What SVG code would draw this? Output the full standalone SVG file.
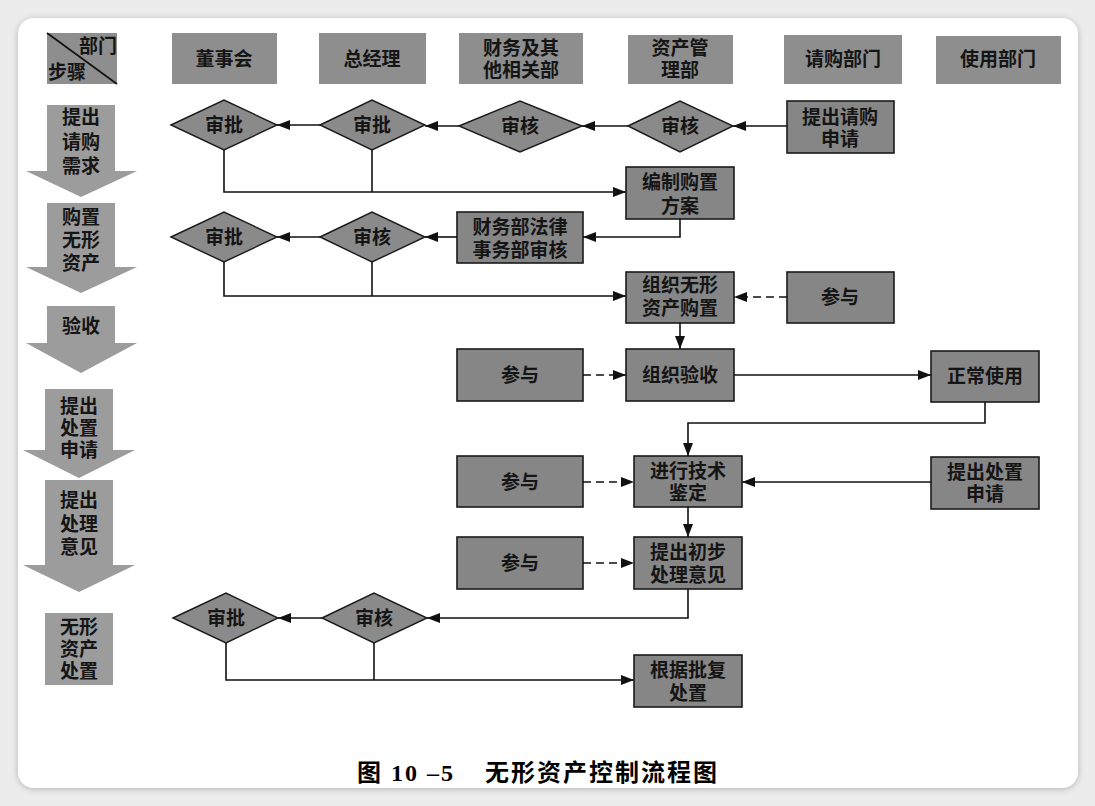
<svg xmlns="http://www.w3.org/2000/svg" width="1095" height="806" viewBox="0 0 1095 806">
<defs>
<style>
text{font-family:"Liberation Sans","Noto Sans CJK SC","Noto Sans CJK JP",sans-serif;font-size:19px;font-weight:bold;fill:#151515;text-anchor:middle;}
.hdr{fill:#8e8e8e;}
.box{fill:#868686;stroke:#1a1a1a;stroke-width:1.6;}
.dia{fill:#8a8a8a;stroke:#1a1a1a;stroke-width:1.4;}
.step{fill:#9c9c9c;}
.ln{fill:none;stroke:#111;stroke-width:1.6;}
.arr{marker-end:url(#ah);}
.dash{stroke-dasharray:8,5;}
.cap{font-family:"Liberation Serif","Noto Sans CJK SC",serif;font-weight:bold;font-size:24px;fill:#000;text-anchor:start;}
</style>
<marker id="ah" markerUnits="userSpaceOnUse" markerWidth="14" markerHeight="10" refX="13" refY="5" orient="auto">
<path d="M0,0 L13,5 L0,10 z" fill="#111"/>
</marker>
<filter id="sh" x="-5%" y="-5%" width="110%" height="110%">
<feDropShadow dx="0" dy="1" stdDeviation="3" flood-color="#000" flood-opacity="0.25"/>
</filter>
</defs>
<rect x="0" y="0" width="1095" height="806" fill="#ececec"/>
<rect x="18" y="18" width="1060" height="770" rx="16" fill="#fff" filter="url(#sh)"/>

<g id="header">
<g id="corner"><rect class="hdr" x="47" y="33" width="70" height="51"/><line x1="47" y1="33" x2="117" y2="84" stroke="#111" stroke-width="1.6"/><text x="98" y="53">部门</text><text x="67" y="79">步骤</text></g>
<g id="h-board"><rect class="hdr" x="172" y="33" width="105" height="51"/><text x="224" y="66">董事会</text></g>
<g id="h-gm"><rect class="hdr" x="319" y="33" width="107" height="51"/><text x="372" y="66">总经理</text></g>
<g id="h-fin"><rect class="hdr" x="459" y="33" width="124" height="51"/><text x="521" y="55">财务及其<tspan x="521" dy="22">他相关部</tspan></text></g>
<g id="h-asset"><rect class="hdr" x="628" y="35" width="105" height="49"/><text x="680" y="55">资产管<tspan x="680" dy="22">理部</tspan></text></g>
<g id="h-req"><rect class="hdr" x="784" y="35" width="118" height="49"/><text x="843" y="66">请购部门</text></g>
<g id="h-use"><rect class="hdr" x="936" y="36" width="125" height="48"/><text x="998" y="66">使用部门</text></g>
</g>

<g id="steps">
<g id="s1"><polygon class="step" points="47,105 115,105 115,171 137,171 81,197 26,171 47,171"/><text x="81" y="124">提出<tspan x="81" dy="25">请购</tspan><tspan x="81" dy="24">需求</tspan></text></g>
<g id="s2"><polygon class="step" points="47,203 115,203 115,267 137,267 81,293 26,267 47,267"/><text x="81" y="224">购置<tspan x="81" dy="23">无形</tspan><tspan x="81" dy="23">资产</tspan></text></g>
<g id="s3"><polygon class="step" points="47,306 115,306 115,343 137,343 81,373 26,343 47,343"/><text x="81" y="333">验收</text></g>
<g id="s4"><polygon class="step" points="45,389 113,389 113,450 135,450 79,478 23,450 45,450"/><text x="79" y="413">提出<tspan x="79" dy="22">处置</tspan><tspan x="79" dy="22">申请</tspan></text></g>
<g id="s5"><polygon class="step" points="45,480 113,480 113,565 135,565 79,592 23,565 45,565"/><text x="79" y="507">提出<tspan x="79" dy="24">处理</tspan><tspan x="79" dy="23">意见</tspan></text></g>
<g id="s6"><rect class="step" x="45" y="613" width="68" height="72"/><text x="79" y="634">无形<tspan x="79" dy="22">资产</tspan><tspan x="79" dy="22">处置</tspan></text></g>
</g>

<g id="n-d1"><polygon class="dia" points="171,125 224,100 277,125 224,150"/><text x="224" y="132">审批</text></g>
<g id="n-d2"><polygon class="dia" points="320,125 372,100 425,125 372,150"/><text x="372" y="132">审批</text></g>
<g id="n-d3"><polygon class="dia" points="459,126 520,101 582,126 520,152"/><text x="520" y="133">审核</text></g>
<g id="n-d4"><polygon class="dia" points="628,126 680,101 733,126 680,152"/><text x="680" y="133">审核</text></g>
<g id="n-req"><rect class="box" x="787" y="101" width="107" height="52"/><text x="840" y="124">提出请购<tspan x="840" dy="22">申请</tspan></text></g>

<g id="n-plan"><rect class="box" x="626" y="167" width="108" height="52"/><text x="680" y="189">编制购置<tspan x="680" dy="24">方案</tspan></text></g>
<g id="n-legal"><rect class="box" x="457" y="212" width="126" height="51"/><text x="520" y="234">财务部法律<tspan x="520" dy="23">事务部审核</tspan></text></g>
<g id="n-d5"><polygon class="dia" points="320,237 372,212 425,237 372,262"/><text x="372" y="244">审核</text></g>
<g id="n-d6"><polygon class="dia" points="171,237 224,212 277,237 224,262"/><text x="224" y="244">审批</text></g>

<g id="n-buy"><rect class="box" x="626" y="272" width="108" height="51"/><text x="680" y="292">组织无形<tspan x="680" dy="23">资产购置</tspan></text></g>
<g id="n-p1"><rect class="box" x="787" y="272" width="107" height="51"/><text x="840" y="304">参与</text></g>

<g id="n-accept"><rect class="box" x="626" y="349" width="108" height="52"/><text x="680" y="382">组织验收</text></g>
<g id="n-p2"><rect class="box" x="457" y="349" width="126" height="52"/><text x="520" y="382">参与</text></g>
<g id="n-use"><rect class="box" x="931" y="351" width="108" height="51"/><text x="985" y="383">正常使用</text></g>

<g id="n-tech"><rect class="box" x="634" y="456" width="108" height="51"/><text x="688" y="478">进行技术<tspan x="688" dy="22">鉴定</tspan></text></g>
<g id="n-p3"><rect class="box" x="457" y="456" width="126" height="51"/><text x="520" y="489">参与</text></g>
<g id="n-disp"><rect class="box" x="931" y="457" width="108" height="52"/><text x="985" y="479">提出处置<tspan x="985" dy="22">申请</tspan></text></g>

<g id="n-opinion"><rect class="box" x="634" y="537" width="108" height="52"/><text x="688" y="559">提出初步<tspan x="688" dy="23">处理意见</tspan></text></g>
<g id="n-p4"><rect class="box" x="457" y="537" width="126" height="52"/><text x="520" y="570">参与</text></g>

<g id="n-d7"><polygon class="dia" points="322,618 374,593 427,618 374,643"/><text x="374" y="625">审核</text></g>
<g id="n-d8"><polygon class="dia" points="173,618 226,593 278,618 226,643"/><text x="226" y="625">审批</text></g>
<g id="n-final"><rect class="box" x="634" y="655" width="108" height="52"/><text x="688" y="677">根据批复<tspan x="688" dy="23">处置</tspan></text></g>

<g id="connectors">
<line class="ln arr" x1="787" y1="126" x2="733" y2="126"/>
<line class="ln arr" x1="628" y1="126" x2="582" y2="126"/>
<line class="ln arr" x1="459" y1="126" x2="425" y2="126"/>
<line class="ln arr" x1="320" y1="125" x2="277" y2="125"/>
<polyline class="ln arr" points="224,150 224,192 626,192"/>
<line class="ln" x1="372" y1="150" x2="372" y2="192"/>
<polyline class="ln arr" points="680,219 680,237 583,237"/>
<line class="ln arr" x1="457" y1="237" x2="425" y2="237"/>
<line class="ln arr" x1="320" y1="237" x2="277" y2="237"/>
<polyline class="ln arr" points="224,262 224,296 626,296"/>
<line class="ln" x1="372" y1="262" x2="372" y2="296"/>
<line class="ln arr dash" x1="787" y1="297" x2="734" y2="297"/>
<line class="ln arr" x1="680" y1="323" x2="680" y2="349"/>
<line class="ln arr dash" x1="583" y1="375" x2="626" y2="375"/>
<line class="ln arr" x1="734" y1="375" x2="931" y2="375"/>
<polyline class="ln arr" points="985,402 985,423 688,423 688,456"/>
<line class="ln arr dash" x1="583" y1="482" x2="634" y2="482"/>
<line class="ln arr" x1="931" y1="482" x2="742" y2="482"/>
<line class="ln arr" x1="688" y1="507" x2="688" y2="537"/>
<line class="ln arr dash" x1="583" y1="563" x2="634" y2="563"/>
<polyline class="ln arr" points="688,589 688,618 427,618"/>
<line class="ln arr" x1="322" y1="618" x2="278" y2="618"/>
<polyline class="ln arr" points="226,643 226,680 634,680"/>
<line class="ln" x1="374" y1="643" x2="374" y2="680"/>
</g>

<g id="caption">
<text class="cap" x="357" y="781" style="letter-spacing:2px">图 10 –5</text>
<text class="cap" x="485" y="781" style="font-family:'Noto Sans CJK SC',sans-serif;letter-spacing:2px">无形资产控制流程图</text>
</g>
</svg>
